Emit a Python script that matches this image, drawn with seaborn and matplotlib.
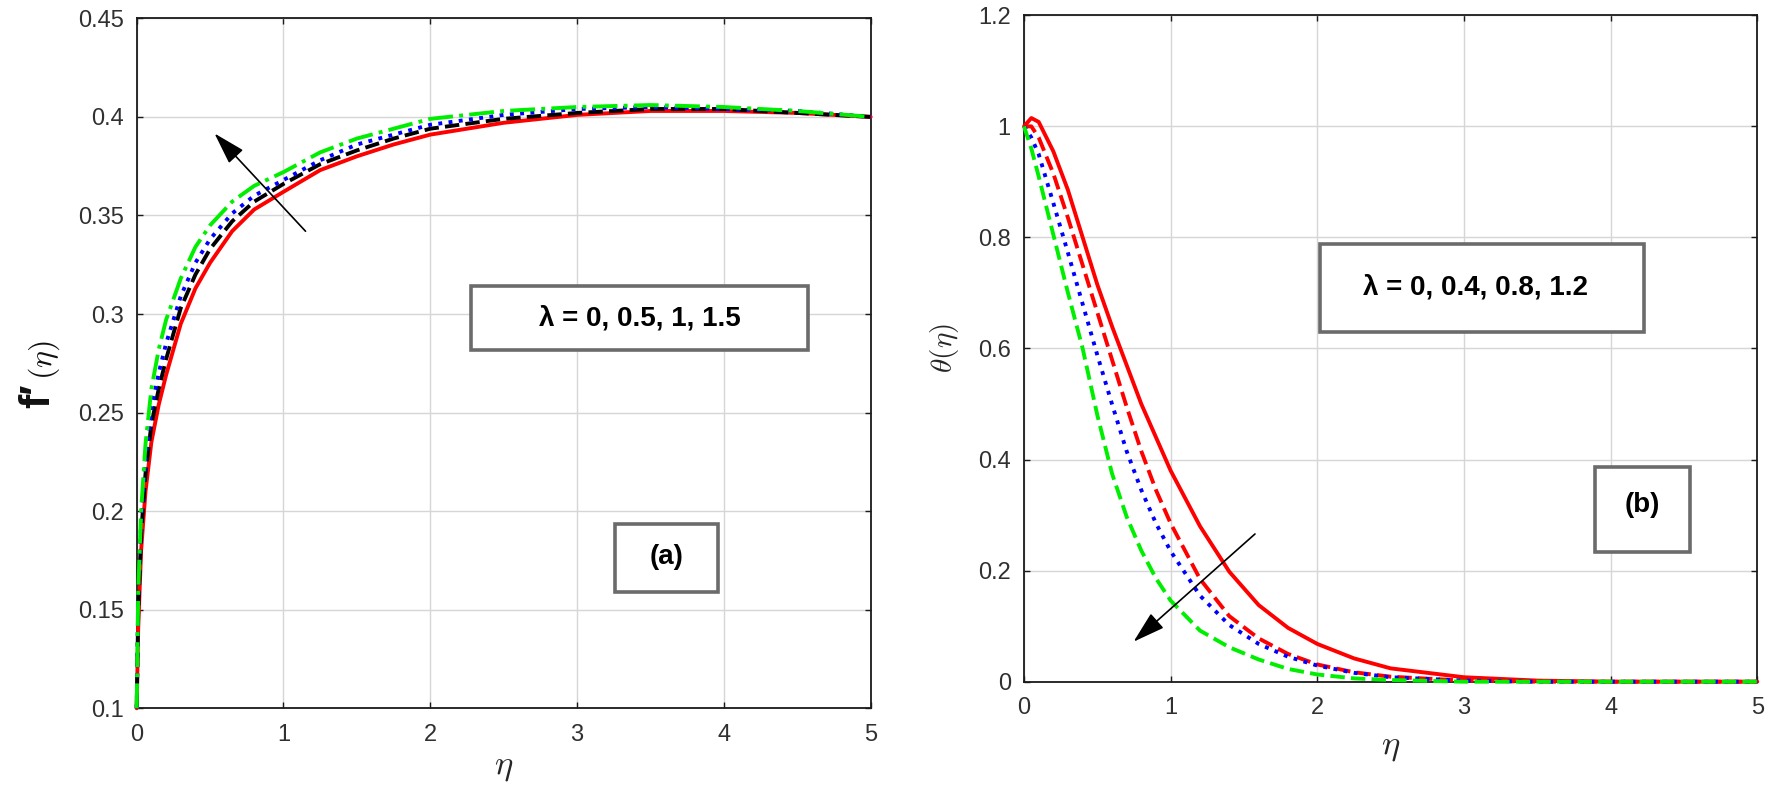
import matplotlib
matplotlib.use('Agg')
import matplotlib.pyplot as plt
import seaborn as sns
from matplotlib.patches import Rectangle
from matplotlib.ticker import FuncFormatter

# ---------------- data: panel (a) f'(eta) ----------------
eta_a = [0, 0.01, 0.03, 0.06, 0.1, 0.15, 0.2, 0.3, 0.4, 0.5, 0.65, 0.8, 1.0,
         1.25, 1.5, 1.75, 2.0, 2.5, 3.0, 3.5, 4.0, 4.5, 5.0]
fp_lam_0 = [0.100, 0.140, 0.180, 0.210, 0.235, 0.254, 0.269, 0.295, 0.313, 0.326, 0.342, 0.353, 0.362,
            0.373, 0.380, 0.386, 0.391, 0.397, 0.401, 0.403, 0.403, 0.402, 0.400]
fp_lam_05 = [0.100, 0.148, 0.188, 0.219, 0.244, 0.262, 0.277, 0.303, 0.320, 0.333, 0.347, 0.357, 0.366,
             0.376, 0.383, 0.389, 0.394, 0.399, 0.402, 0.404, 0.404, 0.402, 0.400]
fp_lam_1 = [0.100, 0.153, 0.194, 0.226, 0.252, 0.270, 0.285, 0.309, 0.326, 0.338, 0.351, 0.360, 0.368,
            0.378, 0.386, 0.391, 0.396, 0.401, 0.404, 0.405, 0.404, 0.403, 0.400]
fp_lam_15 = [0.100, 0.158, 0.200, 0.234, 0.262, 0.282, 0.297, 0.318, 0.334, 0.345, 0.357, 0.365, 0.372,
             0.382, 0.389, 0.394, 0.399, 0.403, 0.405, 0.406, 0.405, 0.403, 0.400]

# ---------------- data: panel (b) theta(eta) ----------------
eta_b = [0, 0.05, 0.1, 0.2, 0.3, 0.4, 0.5, 0.6, 0.7, 0.8, 0.9, 1.0, 1.2, 1.4, 1.6,
         1.8, 2.0, 2.25, 2.5, 3.0, 3.5, 4.0, 5.0]
th_lam_0 = [1.000, 1.015, 1.008, 0.955, 0.885, 0.800, 0.715, 0.640, 0.570, 0.500, 0.440, 0.380, 0.280,
            0.198, 0.138, 0.097, 0.068, 0.042, 0.024, 0.008, 0.002, 0.000, 0.000]
th_lam_04 = [1.000, 1.000, 0.980, 0.915, 0.835, 0.750, 0.665, 0.580, 0.495, 0.415, 0.345, 0.285, 0.185,
             0.118, 0.078, 0.050, 0.031, 0.017, 0.009, 0.002, 0.000, 0.000, 0.000]
th_lam_08 = [1.000, 0.980, 0.950, 0.862, 0.772, 0.680, 0.588, 0.500, 0.415, 0.345, 0.285, 0.235, 0.155,
             0.102, 0.068, 0.045, 0.029, 0.016, 0.008, 0.002, 0.000, 0.000, 0.000]
th_lam_12 = [1.000, 0.960, 0.910, 0.805, 0.700, 0.600, 0.480, 0.375, 0.297, 0.236, 0.186, 0.146, 0.092,
             0.062, 0.040, 0.023, 0.013, 0.006, 0.003, 0.000, 0.000, 0.000, 0.000]

x_ticks = [0, 1, 2, 3, 4, 5]
y_ticks_a = [0.1, 0.15, 0.2, 0.25, 0.3, 0.35, 0.4, 0.45]
y_ticks_b = [0, 0.2, 0.4, 0.6, 0.8, 1.0, 1.2]

label_a = 'λ = 0, 0.5, 1, 1.5'
label_b = 'λ = 0, 0.4, 0.8, 1.2'

sns.set_theme(style='white')
plt.rcParams['font.family'] = ['Liberation Sans', 'DejaVu Sans']
plt.rcParams['mathtext.fontset'] = 'cm'

fig = plt.figure(figsize=(17.7, 7.88), dpi=100)
ax1 = fig.add_axes([0.07723, 0.10114, 0.41469, 0.87563])
ax2 = fig.add_axes([0.57853, 0.13490, 0.41429, 0.84569])

LW = 2.8
common = dict(errorbar=None, lw=LW, clip_on=False, zorder=3)

sns.lineplot(x=eta_a, y=fp_lam_0, ax=ax1, color='#ff0000', linestyle='-', **common)
sns.lineplot(x=eta_a, y=fp_lam_05, ax=ax1, color='#000000', linestyle='--', **common)
sns.lineplot(x=eta_a, y=fp_lam_1, ax=ax1, color='#0000ff', linestyle=':', **common)
sns.lineplot(x=eta_a, y=fp_lam_15, ax=ax1, color='#00ee00', linestyle='-.', **common)

sns.lineplot(x=eta_b, y=th_lam_0, ax=ax2, color='#ff0000', linestyle='-', **common)
sns.lineplot(x=eta_b, y=th_lam_04, ax=ax2, color='#ff0000', linestyle='--', **common)
sns.lineplot(x=eta_b, y=th_lam_08, ax=ax2, color='#0000ff', linestyle=':', **common)
sns.lineplot(x=eta_b, y=th_lam_12, ax=ax2, color='#00ee00', linestyle='--', **common)


def style_axes(ax, ylim, yticks):
    ax.set_xlim(0, 5)
    ax.set_ylim(*ylim)
    ax.set_xticks(x_ticks)
    ax.set_yticks(yticks)
    fmt = FuncFormatter(lambda v, p: f'{v:g}')
    ax.xaxis.set_major_formatter(fmt)
    ax.yaxis.set_major_formatter(fmt)
    ax.grid(True, color='#d6d6d6', lw=1.0)
    ax.set_axisbelow(True)
    for s in ax.spines.values():
        s.set_visible(True)
        s.set_color('#1a1a1a')
        s.set_linewidth(1.3)
    ax.tick_params(direction='in', length=4.5, width=1.0, top=True, right=True,
                   bottom=True, left=True, colors='#1a1a1a', labelcolor='#303030',
                   labelsize=17)
    ax.tick_params(axis='y', pad=9.5)
    ax.tick_params(axis='x', pad=11)
    ax.set_xlabel('')
    ax.set_ylabel('')


style_axes(ax1, (0.1, 0.45), y_ticks_a)
style_axes(ax2, (0, 1.2), y_ticks_b)

# axis labels
ax1.set_xlabel(r'$\eta$', fontsize=25)
ax1.xaxis.set_label_coords(0.5, -0.085)
ax1.xaxis.label.set_va('center')
ax2.set_xlabel(r'$\eta$', fontsize=25)
ax2.xaxis.set_label_coords(0.5, -0.0975)
ax2.xaxis.label.set_va('center')
ax2.set_ylabel(r'$\theta(\eta)$', fontsize=21)
ax2.yaxis.set_label_coords(-0.108, 0.5)
ax2.yaxis.label.set_va('center')

W, H = 1770.0, 788.0
fig.text(49 / W, 1 - 408 / H, 'f′', rotation=90, rotation_mode='anchor',
         ha='left', va='baseline', fontsize=31, fontweight='bold', color='#111111')
fig.text(52 / W, 1 - 380 / H, r'$(\eta)$', rotation=90, rotation_mode='anchor',
         ha='left', va='baseline', fontsize=23, color='#111111')

# annotation boxes
box_style = dict(facecolor='white', edgecolor='#6b6b6b', lw=2.6, zorder=5)
ax1.add_patch(Rectangle((2.28, 0.2815), 2.29, 0.0325, **box_style))
ax1.text(3.43, 0.2977, label_a, ha='center', va='center', fontsize=20,
         fontweight='bold', color='black', zorder=6)
ax1.add_patch(Rectangle((3.26, 0.159), 0.70, 0.0344, **box_style))
ax1.text(3.61, 0.1765, '(a)', ha='center', va='center', fontsize=20,
         fontweight='bold', color='black', zorder=6)

ax2.add_patch(Rectangle((2.02, 0.630), 2.21, 0.159, **box_style))
ax2.text(3.08, 0.71, label_b, ha='center', va='center', fontsize=20,
         fontweight='bold', color='black', zorder=6)
ax2.add_patch(Rectangle((3.89, 0.234), 0.65, 0.152, **box_style))
ax2.text(4.215, 0.318, '(b)', ha='center', va='center', fontsize=20,
         fontweight='bold', color='black', zorder=6)

# arrows
arrow_kw = dict(arrowstyle='-|>,head_length=2.0,head_width=0.6', mutation_scale=10,
                color='black', lw=1.2, shrinkA=0, shrinkB=0)
ax1.annotate('', xy=(0.53, 0.3916), xytext=(1.15, 0.342), arrowprops=arrow_kw, zorder=7)
ax2.annotate('', xy=(0.747, 0.072), xytext=(1.575, 0.266), arrowprops=arrow_kw, zorder=7)

fig.savefig('out.png', dpi=100)
